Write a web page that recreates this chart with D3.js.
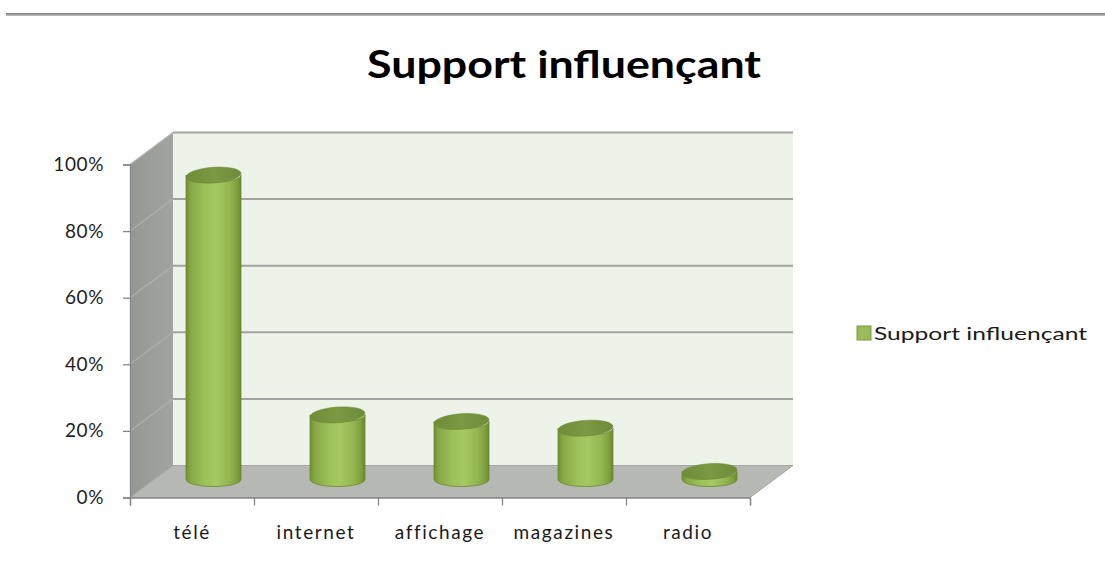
<!DOCTYPE html>
<html>
<head>
<meta charset="utf-8">
<script src="https://cdn.jsdelivr.net/npm/d3@7"></script>
<style>
  html, body { margin: 0; padding: 0; background: #fff; }
  svg { display: block; }
  text { font-family: Lato, "Open Sans", sans-serif; }
</style>
</head>
<body>
<svg id="chart" width="1105" height="562"></svg>
<script>
// Share of respondents naming each medium as influential (%)
const categories = ["télé", "internet", "affichage", "magazines", "radio"];
const values = [92, 20, 18, 16, 3];
const seriesName = "Support influençant";
const yTicks = [0, 20, 40, 60, 80, 100];

const svg = d3.select("#chart");

// Rule across the top of the sheet
const defs = svg.append("defs");
const rule = defs.append("linearGradient").attr("id", "rule").attr("x1", 0).attr("x2", 0).attr("y1", 0).attr("y2", 1);
rule.append("stop").attr("offset", 0).attr("stop-color", "#7a7a7a");
rule.append("stop").attr("offset", 1).attr("stop-color", "#c4c4c4");
svg.append("rect").attr("x", 6).attr("y", 13).attr("width", 1099).attr("height", 3).attr("fill", "url(#rule)");

// Title
svg.append("text")
  .attr("x", 564).attr("y", 78)
  .attr("text-anchor", "middle")
  .attr("font-size", 38).attr("font-weight", 700).attr("fill", "#000")
  .attr("textLength", 394).attr("lengthAdjust", "spacingAndGlyphs")
  .text(seriesName);

// Scales: front plane of the 3-D box, plus a depth offset to the back wall
const x = d3.scaleBand().domain(categories).range([130, 750]);
const xi = d3.scaleLinear().domain([0, categories.length]).range([130, 750]);
const y = d3.scaleLinear().domain([0, 100]).range([497.5, 164.5]);
const DX = 43, DY = -32;

const [x0, x1] = xi.range();

// Side wall
const sideGrad = defs.append("linearGradient").attr("id", "side").attr("x1", 0).attr("x2", 1).attr("y1", 0).attr("y2", 0);
sideGrad.append("stop").attr("offset", 0).attr("stop-color", "#959793");
sideGrad.append("stop").attr("offset", 1).attr("stop-color", "#a2a4a0");
svg.append("path")
  .attr("d", `M${x0},${y(0)} L${x0},${y(100)} L${x0 + DX},${y(100) + DY} L${x0 + DX},${y(0) + DY} Z`)
  .attr("fill", "url(#side)");

// Back wall
svg.append("rect")
  .attr("x", x0 + DX).attr("y", y(100) + DY)
  .attr("width", x1 - x0).attr("height", y(0) - y(100))
  .attr("fill", "#eef3e9");

// Floor
svg.append("path")
  .attr("d", `M${x0},${y(0)} L${x1},${y(0)} L${x1 + DX},${y(0) + DY} L${x0 + DX},${y(0) + DY} Z`)
  .attr("fill", "#b6b8b3")
  .attr("stroke", "#a4a6a2").attr("stroke-width", 1);

// Gridlines on back wall and side wall
const grid = svg.append("g");
yTicks.filter(t => t > 0).forEach(t => {
  grid.append("line")
    .attr("x1", x0 + DX).attr("x2", x1 + DX)
    .attr("y1", y(t) + DY).attr("y2", y(t) + DY)
    .attr("stroke", "#a2a2a2").attr("stroke-width", 2);
  grid.append("line")
    .attr("x1", x0).attr("x2", x0 + DX)
    .attr("y1", y(t)).attr("y2", y(t) + DY)
    .attr("stroke", t === 100 ? "#b4b4b4" : "#aeb0ac").attr("stroke-width", 1.2);
});

// Cylinder shading
const body = defs.append("linearGradient").attr("id", "cyl").attr("x1", 0).attr("x2", 1).attr("y1", 0).attr("y2", 0);
[[0, "#6f8f33"], [0.08, "#86a744"], [0.35, "#9fc15a"], [0.55, "#a6c862"], [0.8, "#93b550"], [0.94, "#7d9c3c"], [1, "#668530"]]
  .forEach(([o, c]) => body.append("stop").attr("offset", o).attr("stop-color", c));
const lid = defs.append("linearGradient").attr("id", "lid").attr("x1", 0).attr("x2", 1).attr("y1", 0).attr("y2", 0);
[[0, "#6f8c3a"], [0.5, "#7b9942"], [1, "#6f8c3a"]]
  .forEach(([o, c]) => lid.append("stop").attr("offset", o).attr("stop-color", c));

// Bars as cylinders standing at mid-depth
const RX = 27.5, RY = 7;
const bars = svg.append("g").selectAll("g").data(categories.map((c, i) => ({ c, v: values[i] })))
  .join("g")
  .attr("transform", d => `translate(${x(d.c) + x.bandwidth() / 2 + DX / 2},${DY / 2})`);

bars.append("path")
  .attr("d", d => {
    const top = y(d.v), bot = y(0) - 2;
    return `M${-RX},${top} L${-RX},${bot} A${RX},${RY} 0 0 0 ${RX},${bot} L${RX},${top} A${RX},${RY} 0 0 1 ${-RX},${top} Z`;
  })
  .attr("fill", "url(#cyl)")
  .attr("stroke", "#6a8a30").attr("stroke-width", 0.8);

bars.append("ellipse")
  .attr("cx", 0).attr("cy", d => y(d.v))
  .attr("rx", RX).attr("ry", RY + 0.8)
  .attr("transform", d => `rotate(-4 0 ${y(d.v)})`)
  .attr("fill", "url(#lid)")
  .attr("stroke", "#6e8c36").attr("stroke-width", 0.6);

// Y axis
const yAxis = svg.append("g")
  .attr("transform", `translate(${x0},0)`)
  .call(d3.axisLeft(y).tickValues(yTicks).tickFormat(d => d + "%").tickSize(7).tickPadding(19));
yAxis.select(".domain").attr("stroke", "#868686").attr("stroke-width", 1.3);
yAxis.selectAll(".tick line").attr("stroke", "#868686").attr("stroke-width", 1.3);
yAxis.selectAll(".tick text")
  .attr("font-size", 19).attr("fill", "#1e1e1e")
  .attr("font-family", "Lato, sans-serif")
  .attr("letter-spacing", 0.6);

// X axis: boundary ticks
const xAxis = svg.append("g")
  .attr("transform", `translate(0,${y(0)})`)
  .call(d3.axisBottom(xi).tickValues(d3.range(categories.length + 1)).tickFormat("").tickSize(8));
xAxis.select(".domain").attr("stroke", "#868686").attr("stroke-width", 1.3);
xAxis.selectAll(".tick line").attr("stroke", "#868686").attr("stroke-width", 1.3);

// X axis: category labels
const xLabels = svg.append("g")
  .attr("transform", `translate(0,${y(0)})`)
  .call(d3.axisBottom(x).tickSize(0).tickPadding(0));
xLabels.select(".domain").remove();
xLabels.selectAll(".tick text")
  .attr("y", 41).attr("dy", 0)
  .attr("font-size", 19).attr("fill", "#1a1a1a")
  .attr("letter-spacing", 1.6);

// Legend
const legend = svg.append("g").attr("transform", "translate(857,326)");
legend.append("rect").attr("width", 14).attr("height", 14)
  .attr("fill", "#9bbb59").attr("stroke", "#7d9a40").attr("stroke-width", 1);
legend.append("text")
  .attr("x", 17).attr("y", 13.5)
  .attr("font-size", 18).attr("fill", "#1a1a1a")
  .attr("textLength", 213).attr("lengthAdjust", "spacingAndGlyphs")
  .text(seriesName);
</script>
</body>
</html>
